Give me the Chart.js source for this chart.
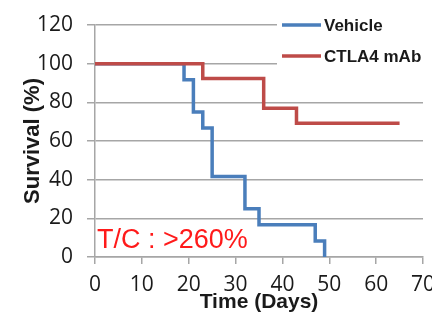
<!DOCTYPE html>
<html>
<head>
<meta charset="utf-8">
<script src="https://cdn.jsdelivr.net/npm/chart.js@4/dist/chart.umd.min.js"></script>
<style>
  html, body { margin: 0; padding: 0; background: #fff; }
  #wrap { width: 432px; height: 315px; }
</style>
</head>
<body>
<div id="wrap"><canvas id="survivalChart" width="432" height="315"></canvas></div>
<script>
// --- Data (Kaplan-Meier steps) ---
const vehicleDays = [0, 19, 21, 23, 25, 32, 35, 47, 49];
const vehicleSurvival = [100, 91.7, 75, 66.7, 41.7, 25, 16.7, 8.3, 0];
const ctlaDays = [0, 23, 36, 43, 65];
const ctlaSurvival = [100, 92.3, 76.9, 69.2, 69.2];
const seriesLabels = ['Vehicle', 'CTLA4 mAb'];
const annotationText = 'T/C : >260%';

const toPoints = (xs, ys) => xs.map((x, i) => ({ x, y: ys[i] }));

const GRID = '#a6a6a6';

// --- Legend drawn inside the plot, top right ---
const boxLegend = {
  id: 'boxLegend',
  afterDatasetsDraw(chart) {
    const c = chart.ctx;
    c.save();
    c.fillStyle = '#fff';
    c.fillRect(277, 8, 155, 64);
    c.font = 'bold 17px "Liberation Sans", Arial, sans-serif';
    c.textBaseline = 'middle';
    chart.data.datasets.forEach((ds, i) => {
      const y = 25 + i * 31;
      c.strokeStyle = ds.borderColor;
      c.lineWidth = 3.5;
      c.beginPath();
      c.moveTo(282, y);
      c.lineTo(321, y);
      c.stroke();
      c.fillStyle = '#1a1a1a';
      c.fillText(ds.label, 324, y + 1);
    });
    // T/C note
    c.font = '27px "Liberation Sans", Arial, sans-serif';
    c.fillStyle = '#ff1a1a';
    c.textBaseline = 'alphabetic';
    c.fillText(annotationText, 97, 248);
    c.restore();
  }
};

new Chart(document.getElementById('survivalChart'), {
  type: 'line',
  data: {
    datasets: [{
      label: seriesLabels[0],
      data: toPoints(vehicleDays, vehicleSurvival),
      borderColor: '#4a7ebb',
      borderWidth: 3.5,
      stepped: true,
      pointRadius: 0,
      fill: false,
      order: 1
    }, {
      label: seriesLabels[1],
      data: toPoints(ctlaDays, ctlaSurvival),
      borderColor: '#be4b48',
      borderWidth: 3.5,
      stepped: true,
      pointRadius: 0,
      fill: false,
      order: 0
    }]
  },
  options: {
    responsive: false,
    animation: false,
    layout: { padding: { top: 25, right: 9, left: 0, bottom: 0 } },
    plugins: { legend: { display: false }, tooltip: { enabled: false } },
    scales: {
      x: {
        type: 'linear',
        min: 0, max: 70,
        ticks: { stepSize: 10, color: '#1a1a1a', padding: 8,
                 font: { family: '"Open Sans", sans-serif', size: 21 } },
        grid: { drawOnChartArea: false, color: GRID, tickLength: 7, lineWidth: 1.5 },
        border: { color: GRID, width: 1.5 },
        title: { display: true, text: 'Time (Days)', color: '#1a1a1a', padding: { top: 0, bottom: 0 },
                 font: { family: '"Liberation Sans", Arial, sans-serif', size: 21, weight: 'bold' } },
        afterFit(scale) { scale.height = 58; scale.paddingLeft = 0; scale.paddingRight = 0; }
      },
      y: {
        min: 0, max: 120,
        ticks: { stepSize: 20, color: '#1a1a1a', padding: 14,
                 font: { family: '"Open Sans", sans-serif', size: 21 } },
        grid: { color: GRID, tickLength: 8, lineWidth: 1.5 },
        border: { color: GRID, width: 1.5 },
        title: { display: true, text: 'Survival (%)', color: '#1a1a1a', padding: { top: 20, bottom: 0 },
                 font: { family: '"Liberation Sans", Arial, sans-serif', size: 22, weight: 'bold' } },
        afterFit(scale) { scale.width = 95; scale.paddingTop = 0; scale.paddingBottom = 0; }
      }
    }
  },
  plugins: [boxLegend]
});
</script>
</body>
</html>
